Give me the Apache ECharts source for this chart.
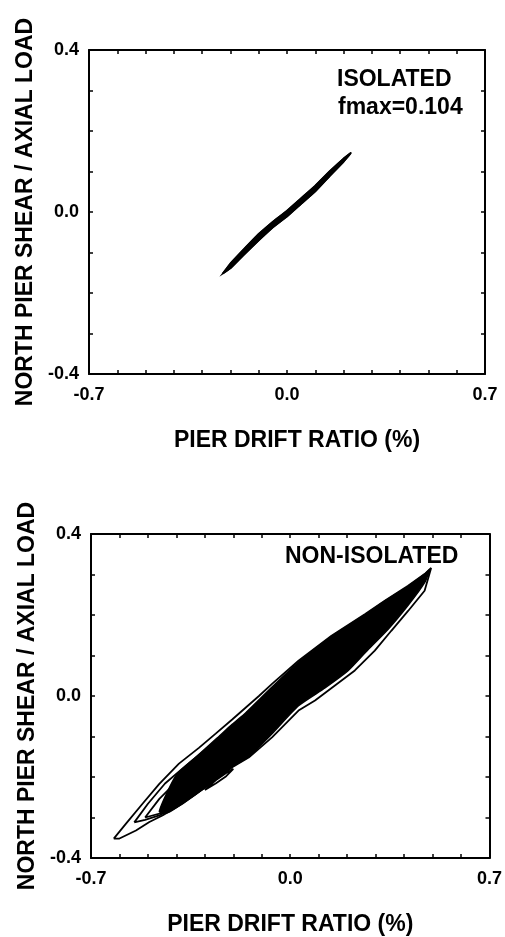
<!DOCTYPE html>
<html>
<head>
<meta charset="utf-8">
</head>
<body style="margin: 0">
<div id="container" style="width: 505px; height: 937px"></div>
<script src="https://cdn.jsdelivr.net/npm/echarts@6/dist/echarts.min.js"></script>
<script>
// tick labels
var xTickLabels = ['-0.7', '0.0', '0.7'];
var yTickLabels = ['-0.4', '0.0', '0.4'];

// isolated pier: thin loop (upper branch left->right, lower branch back)
var isoX = [-0.227, -0.20, -0.15, -0.10, -0.05, 0.00, 0.05, 0.10, 0.15, 0.20, 0.226,
            0.20, 0.15, 0.10, 0.05, 0.00, -0.05, -0.10, -0.15, -0.20, -0.227];
var isoY = [-0.152, -0.127, -0.090, -0.054, -0.024, 0.003, 0.034, 0.065, 0.100, 0.132, 0.146,
            0.124, 0.088, 0.051, 0.020, -0.011, -0.038, -0.070, -0.104, -0.139, -0.152];

// non-isolated pier: dense core of the loops
var coreX = [-0.460, -0.400, -0.330, -0.260, -0.204, -0.157, -0.064, 0.029, 0.145, 0.262, 0.332, 0.414, 0.472, 0.490,
             0.472, 0.414, 0.344, 0.274, 0.204, 0.122, 0.029, -0.064, -0.146, -0.204, -0.297, -0.379, -0.430];
var coreY = [-0.285, -0.195, -0.150, -0.106, -0.070, -0.042, 0.022, 0.083, 0.147, 0.200, 0.234, 0.271, 0.301, 0.312,
             0.280, 0.224, 0.165, 0.115, 0.063, 0.020, -0.024, -0.093, -0.150, -0.174, -0.225, -0.266, -0.288];

// outer loop
var loopAX = [-0.620, -0.577, -0.519, -0.460, -0.391, -0.321, -0.262, -0.204, -0.157, -0.110, -0.064, 0.029, 0.145, 0.262, 0.332, 0.414, 0.472, 0.495,
              0.472, 0.414, 0.355, 0.297, 0.227, 0.157, 0.087, 0.029, -0.064, -0.146, -0.204, -0.297, -0.379, -0.449, -0.495, -0.542, -0.600, -0.620];
var loopAY = [-0.352, -0.315, -0.266, -0.217, -0.167, -0.128, -0.093, -0.058, -0.029, 0.000, 0.030, 0.087, 0.149, 0.202, 0.235, 0.272, 0.301, 0.316,
              0.260, 0.210, 0.161, 0.112, 0.063, 0.026, -0.011, -0.036, -0.102, -0.152, -0.176, -0.225, -0.266, -0.295, -0.311, -0.332, -0.352, -0.352];

// inner loops on the negative side
var loopBX = [-0.548, -0.500, -0.440, -0.380, -0.320, -0.260, -0.200, -0.140, -0.200, -0.300, -0.400, -0.460, -0.510, -0.548];
var loopBY = [-0.312, -0.266, -0.216, -0.180, -0.145, -0.112, -0.078, -0.045, -0.165, -0.222, -0.272, -0.295, -0.306, -0.312];
var loopCX = [-0.510, -0.460, -0.400, -0.340, -0.280, -0.220, -0.160, -0.160, -0.250, -0.350, -0.430, -0.510];
var loopCY = [-0.300, -0.254, -0.212, -0.174, -0.140, -0.104, -0.070, -0.150, -0.200, -0.250, -0.285, -0.300];
var bumpX = [-0.300, -0.262, -0.225, -0.200, -0.225, -0.262, -0.300];
var bumpY = [-0.232, -0.216, -0.198, -0.180, -0.190, -0.208, -0.232];

var font = "'Liberation Sans', Arial, sans-serif";

function pairs(xs, ys) {
	return xs.map(function (x, i) { return [x, ys[i]]; });
}

function pickLabel(labels) {
	return function (v) {
		for (var i = 0; i < labels.length; i++) {
			if (Math.abs(parseFloat(labels[i]) - v) < 1e-6) return labels[i];
		}
		return '';
	};
}

function polygon(xs, ys, axis) {
	return {
		type: 'custom',
		xAxisIndex: axis,
		yAxisIndex: axis,
		silent: true,
		z: 2,
		data: pairs(xs, ys),
		renderItem: function (params, api) {
			if (params.dataIndex !== 0) return;
			var pts = xs.map(function (x, i) { return api.coord([x, ys[i]]); });
			return {
				type: 'polygon',
				shape: { points: pts, smooth: 0.2 },
				style: { fill: '#000', stroke: '#000', lineWidth: 1.5 }
			};
		}
	};
}

function loop(xs, ys, axis) {
	return {
		type: 'line',
		xAxisIndex: axis,
		yAxisIndex: axis,
		showSymbol: false,
		silent: true,
		z: 3,
		lineStyle: { color: '#000', width: 1.8 },
		data: pairs(xs, ys)
	};
}

var tick = { show: true, inside: true, length: 4, lineStyle: { color: '#000', width: 1.5 } };
var line = { show: true, onZero: false, lineStyle: { color: '#000', width: 2 } };
var labelStyle = { color: '#000', fontFamily: font, fontWeight: 'bold', fontSize: 18 };
var nameStyle = { color: '#000', fontFamily: font, fontWeight: 'bold', fontSize: 23 };

function xAxes(grid, pad) {
	return [{
		type: 'value', gridIndex: grid, position: 'bottom', min: -0.7, max: 0.7, interval: 0.1,
		axisLine: line, axisTick: tick, splitLine: { show: false },
		axisLabel: Object.assign({ margin: 12, formatter: pickLabel(xTickLabels), showMinLabel: true, showMaxLabel: true }, labelStyle),
		name: 'PIER DRIFT RATIO (%)', nameLocation: 'middle', nameGap: 55,
		nameTextStyle: Object.assign({ padding: [0, 0, 0, pad] }, nameStyle)
	}, {
		type: 'value', gridIndex: grid, position: 'top', min: -0.7, max: 0.7, interval: 0.1,
		axisLine: line, axisTick: tick, splitLine: { show: false }, axisLabel: { show: false }
	}];
}

function yAxes(grid) {
	return [{
		type: 'value', gridIndex: grid, position: 'left', min: -0.4, max: 0.4, interval: 0.1,
		axisLine: line, axisTick: tick, splitLine: { show: false },
		axisLabel: Object.assign({ margin: 10, formatter: pickLabel(yTickLabels), showMinLabel: true, showMaxLabel: true }, labelStyle),
		name: 'NORTH PIER SHEAR / AXIAL LOAD', nameLocation: 'middle', nameGap: 52,
		nameTextStyle: nameStyle
	}, {
		type: 'value', gridIndex: grid, position: 'right', min: -0.4, max: 0.4, interval: 0.1,
		axisLine: line, axisTick: tick, splitLine: { show: false }, axisLabel: { show: false }
	}];
}

var chart = echarts.init(document.getElementById('container'));
chart.setOption({
	animation: false,
	backgroundColor: '#fff',
	title: [
		{ text: 'ISOLATED', left: 337, top: 68, padding: 0, textStyle: nameStyle },
		{ text: 'fmax=0.104', left: 338, top: 96, padding: 0, textStyle: nameStyle },
		{ text: 'NON-ISOLATED', left: 285, top: 545, padding: 0, textStyle: nameStyle }
	],
	grid: [
		{ left: 89, top: 50, width: 396, height: 324 },
		{ left: 91, top: 534, width: 401, height: 324 }
	],
	xAxis: xAxes(0, 20).concat(xAxes(1, 0)),
	yAxis: yAxes(0).concat(yAxes(1)),
	series: [
		polygon(isoX, isoY, 0),
		loop(isoX, isoY, 0),
		polygon(coreX, coreY, 2),
		loop(loopAX, loopAY, 2),
		loop(loopBX, loopBY, 2),
		loop(loopCX, loopCY, 2),
		loop(bumpX, bumpY, 2)
	]
});
</script>
</body>
</html>
